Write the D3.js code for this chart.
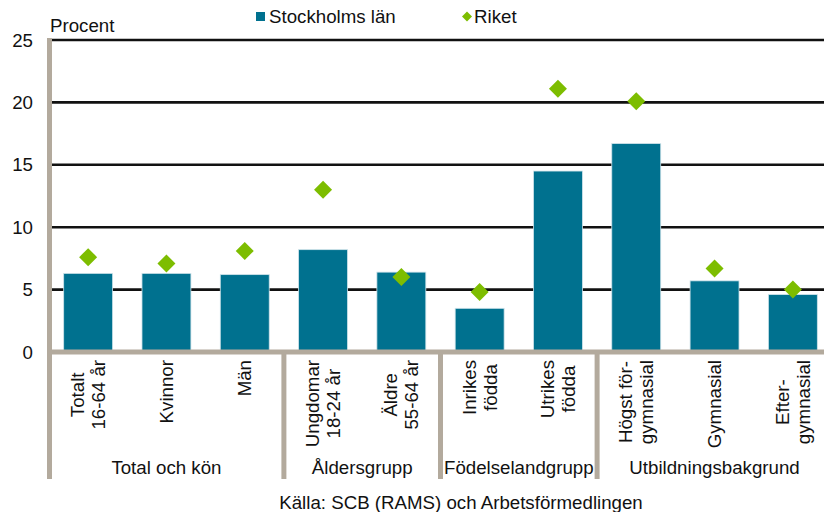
<!DOCTYPE html>
<html><head><meta charset="utf-8">
<script src="https://cdn.jsdelivr.net/npm/d3@7"></script>
<style>
html,body{margin:0;padding:0;background:#fff;}
svg{display:block;font-family:"Liberation Sans",Arial,sans-serif;}
</style></head>
<body>
<svg id="chart" width="824" height="512"></svg>
<script>
const categories = [
  ["Totalt","16-64 år"],["Kvinnor"],["Män"],["Ungdomar","18-24 år"],["Äldre","55-64 år"],
  ["Inrikes","födda"],["Utrikes","födda"],["Högst för-","gymnasial"],["Gymnasial"],["Efter-","gymnasial"]
];
const stockholm = [6.3, 6.3, 6.2, 8.2, 6.4, 3.5, 14.5, 16.7, 5.7, 4.6];
const riket = [7.6, 7.1, 8.1, 13.0, 6.0, 4.8, 21.1, 20.1, 6.7, 5.0];
const groups = [
  {name:"Total och kön", start:0, end:2},
  {name:"Åldersgrupp", start:3, end:4},
  {name:"Födelselandgrupp", start:5, end:6},
  {name:"Utbildningsbakgrund", start:7, end:9}
];
const yTicks = [0,5,10,15,20,25];
const seriesNames = ["Stockholms län","Riket"];

const FS = 18.7;
const barColor = "#00718f", diaColor = "#7dbd00", axisGray = "#b3aa9d";
const svg = d3.select("#chart");
const x = d3.scaleBand().domain(d3.range(categories.length)).range([49, 832]).paddingInner(0.375).paddingOuter(0.1875);
const y = d3.scaleLinear().domain([0,25]).range([352, 40]);
const step = x.step();

// gridlines
svg.append("g").selectAll("line").data(yTicks.filter(d=>d>0)).join("line")
  .attr("x1",49).attr("x2",824).attr("y1",d=>y(d)).attr("y2",d=>y(d))
  .attr("stroke","#111").attr("stroke-width",2.6);

// y tick labels
svg.append("g").selectAll("text").data(yTicks).join("text")
  .attr("x",33).attr("y",d=>y(d)+6.5).attr("text-anchor","end")
  .attr("font-size",FS).attr("fill","#111").text(d=>d);

svg.append("text").attr("x",50).attr("y",32).attr("font-size",FS).attr("fill","#111").text("Procent");

// bars
svg.append("g").selectAll("rect").data(stockholm).join("rect")
  .attr("x",(d,i)=>x(i)).attr("width",x.bandwidth())
  .attr("y",d=>y(d)).attr("height",d=>y(0)-y(d))
  .attr("fill",barColor).attr("stroke","#cfe3ea").attr("stroke-width",0.8);

// diamonds
const dr = 9;
svg.append("g").selectAll("path").data(riket).join("path")
  .attr("d",(d,i)=>{const cx=x(i)+x.bandwidth()/2, cy=y(d);
    return `M${cx},${cy-dr}L${cx+dr},${cy}L${cx},${cy+dr}L${cx-dr},${cy}Z`;})
  .attr("fill",diaColor);

// axes: left border and baseline and separators
const bandStart = i => 49 + i*step;
svg.append("line").attr("x1",49).attr("x2",824).attr("y1",y(0)).attr("y2",y(0))
  .attr("stroke",axisGray).attr("stroke-width",5);
svg.append("line").attr("x1",49.5).attr("x2",49.5).attr("y1",y(25)-2).attr("y2",479)
  .attr("stroke",axisGray).attr("stroke-width",5);
svg.append("g").selectAll("line").data(groups.slice(1)).join("line")
  .attr("x1",g=>bandStart(g.start)).attr("x2",g=>bandStart(g.start))
  .attr("y1",y(0)).attr("y2",479).attr("stroke",axisGray).attr("stroke-width",5);

// category labels (rotated)
const lineGap = 21;
categories.forEach((lines,i)=>{
  const cx = x(i)+x.bandwidth()/2;
  const g = svg.append("g");
  const texts = lines.map((t,k)=>{
    const lx = cx + (k-(lines.length-1)/2)*lineGap + 6.5;
    return g.append("text").attr("font-size",FS).attr("fill","#111")
      .attr("text-anchor","middle").attr("data-lx",lx).text(t);
  });
  const maxLen = d3.max(texts, t=>t.node().getComputedTextLength());
  const cy = 360 + maxLen/2;
  texts.forEach(t=>{
    const lx = +t.attr("data-lx");
    t.attr("transform",`translate(${lx},${cy}) rotate(-90)`).attr("x",0).attr("y",0);
  });
});

// group labels
svg.append("g").selectAll("text").data(groups).join("text")
  .attr("x",g=>(bandStart(g.start)+bandStart(g.end+1))/2).attr("y",474)
  .attr("text-anchor","middle").attr("font-size",FS).attr("fill","#111").text(g=>g.name);

// source
svg.append("text").attr("x",461).attr("y",509).attr("text-anchor","middle")
  .attr("font-size",FS).attr("fill","#111").text("Källa: SCB (RAMS) och Arbetsförmedlingen");

// legend
const leg = svg.append("g");
leg.append("rect").attr("x",256).attr("y",12).attr("width",9).attr("height",9).attr("fill",barColor);
leg.append("text").attr("x",269).attr("y",23).attr("font-size",FS).attr("fill","#111").text(seriesNames[0]);
leg.append("path").attr("d","M467,11.5L472,16.5L467,21.5L462,16.5Z").attr("fill",diaColor);
leg.append("text").attr("x",474).attr("y",23).attr("font-size",FS).attr("fill","#111").text(seriesNames[1]);
</script>
</body></html>
